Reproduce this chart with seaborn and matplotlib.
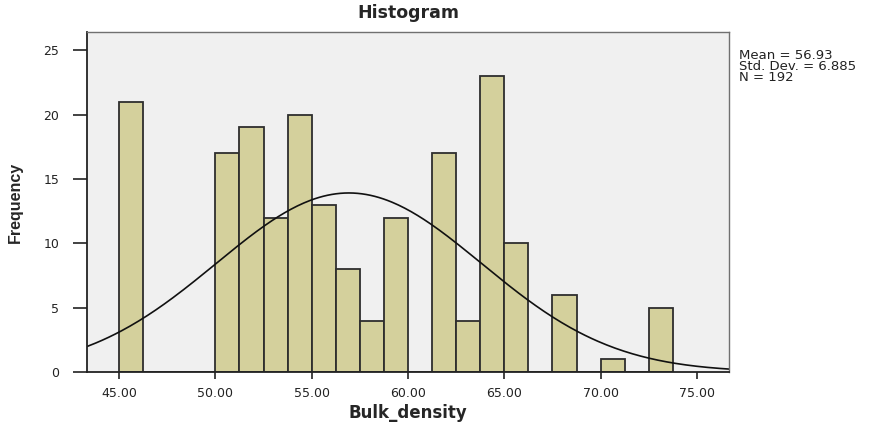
import numpy as np
import pandas as pd
import seaborn as sns
import matplotlib
matplotlib.use('Agg')
import matplotlib.pyplot as plt

# 빈도표 (SPSS 히스토그램, 구간폭 1.25)
bin_start = [45.00, 50.00, 51.25, 52.50, 53.75, 55.00, 56.25, 57.50, 58.75,
             61.25, 62.50, 63.75, 65.00, 67.50, 70.00, 72.50]
counts = [21, 17, 19, 12, 20, 13, 8, 4, 12, 17, 4, 23, 10, 6, 1, 5]
bin_width = 1.25
mean, std, n = 56.93, 6.885, 192
xticks = [45, 50, 55, 60, 65, 70, 75]
yticks = [0, 5, 10, 15, 20, 25]

df = pd.DataFrame({'Bulk_density': np.array(bin_start) + bin_width / 2, 'count': counts})

sns.set_style('white')
plt.rcParams['font.family'] = ['DejaVu Sans']

fig = plt.figure(figsize=(8.73, 4.28), dpi=100)
ax = fig.add_axes([0.0997, 0.1308, 0.7353, 0.7942])
ax.set_facecolor('#f0f0f0')

sns.histplot(data=df, x='Bulk_density', weights='count', binwidth=bin_width,
             binrange=(45.0, 73.75), ax=ax,
             color='#d4d09c', edgecolor='#2e2e2e', linewidth=1.3, alpha=1)

# 정규곡선
xs = np.linspace(43.34, 76.66, 300)
curve = pd.DataFrame({'x': xs,
                      'y': n * bin_width * np.exp(-0.5 * ((xs - mean) / std) ** 2) / (std * np.sqrt(2 * np.pi))})
sns.lineplot(data=curve, x='x', y='y', ax=ax, color='#111111', linewidth=1.2)

ax.set_xlim(43.34, 76.66)
ax.set_ylim(0, 26.4)
ax.set_xticks(xticks)
ax.set_xticklabels([f'{v:.2f}' for v in xticks])
ax.set_yticks(yticks)
ax.tick_params(axis='both', direction='out', labelsize=9, colors='#222222')
ax.tick_params(axis='y', length=10, width=1.2, pad=10)
ax.tick_params(axis='x', length=5, width=1.2, pad=6)
ax.tick_params(left=True, bottom=True)

for side in ['left', 'bottom']:
    ax.spines[side].set_color('#222222')
    ax.spines[side].set_linewidth(1.3)
for side in ['top', 'right']:
    ax.spines[side].set_color('#707070')
    ax.spines[side].set_linewidth(1.0)

ax.set_title('Histogram', fontsize=12.5, fontweight='bold', pad=10)
ax.set_xlabel('Bulk_density', fontsize=12, fontweight='bold', labelpad=3)
ax.set_ylabel('Frequency', fontsize=11.5, fontweight='heavy',
              family=['Liberation Sans Narrow', 'Liberation Sans'], labelpad=15)

fig.text(0.847, 0.885, f'Mean = {mean}\nStd. Dev. = {std}\nN = {n}',
         fontsize=9.5, va='top', ha='left', linespacing=0.78, color='#222222')

fig.savefig('out.png', dpi=100)
